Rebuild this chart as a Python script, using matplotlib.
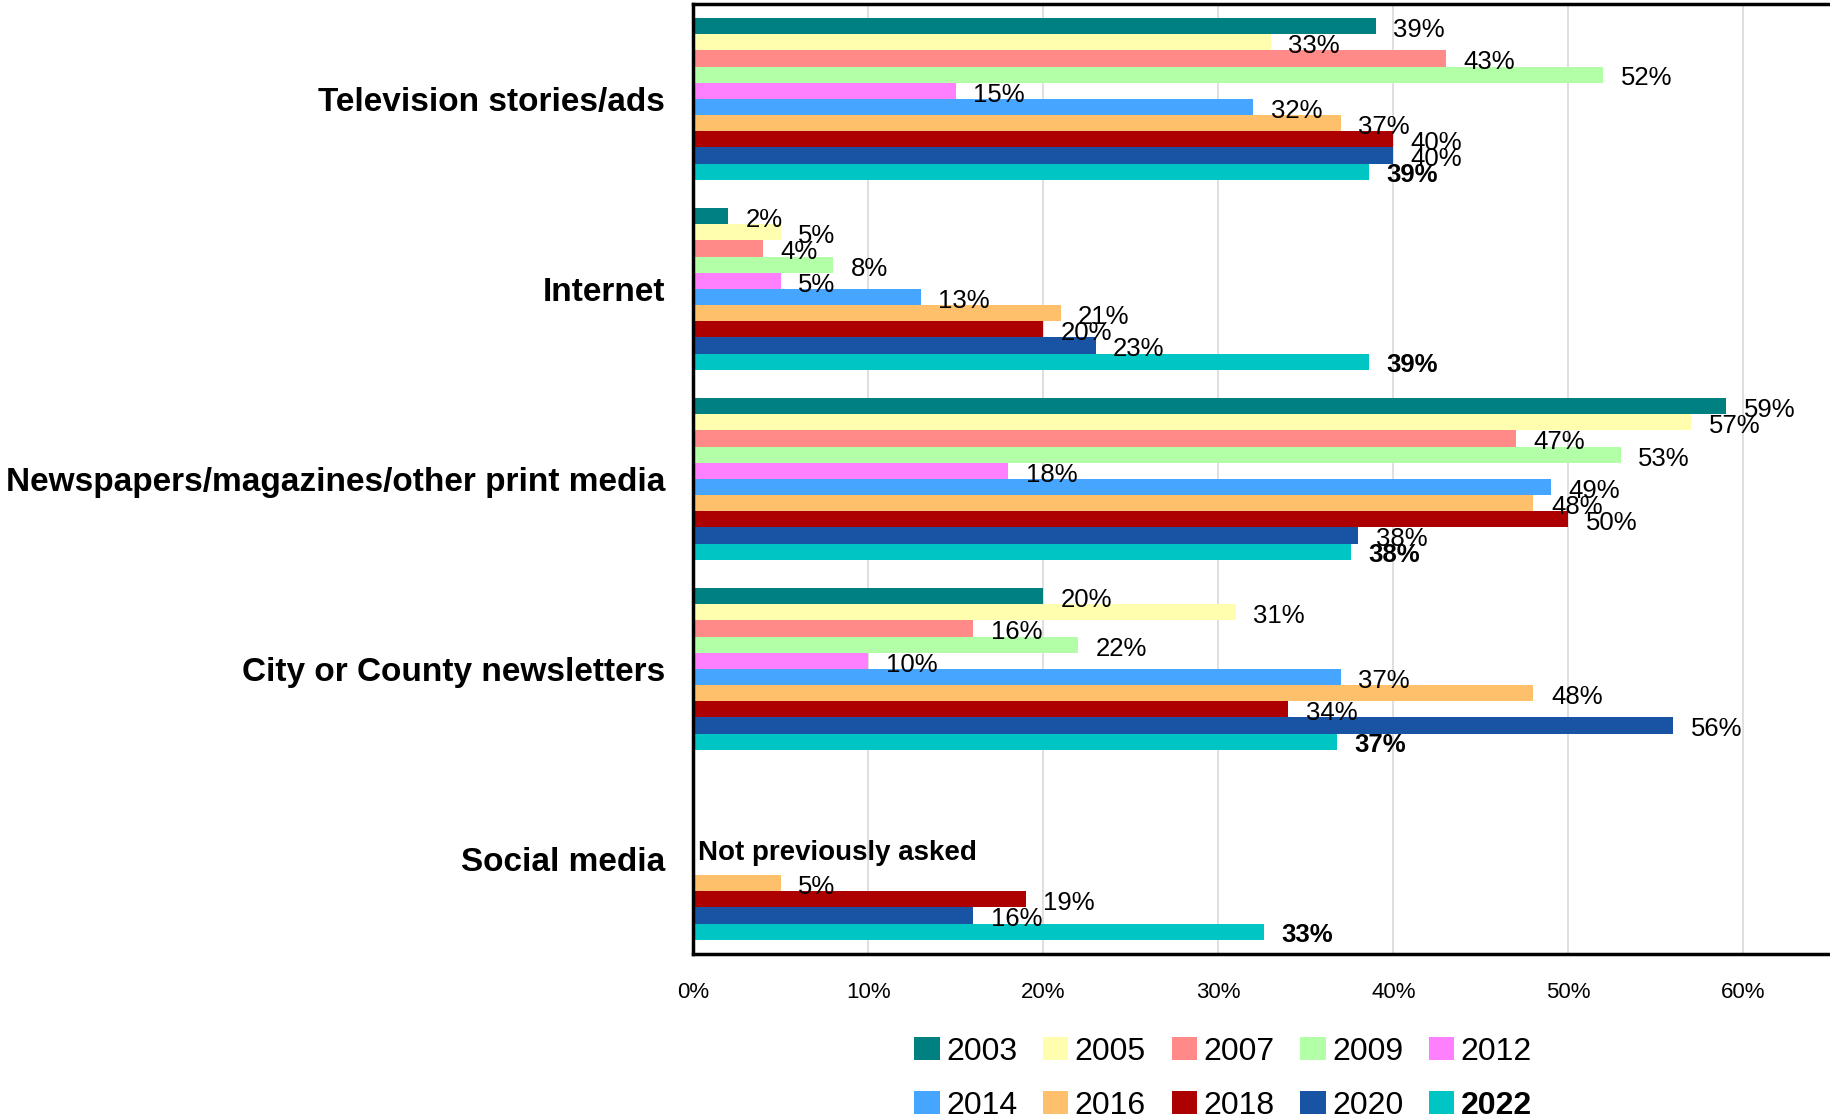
import numpy as np
import matplotlib

matplotlib.use('Agg')
import matplotlib.pyplot as plt

plt.rcParams['font.family'] = ['Liberation Sans', 'DejaVu Sans']

categories = ["Television stories/ads", "Internet",
              "Newspapers/magazines/other print media",
              "City or County newsletters", "Social media"]
years = ["2003", "2005", "2007", "2009", "2012",
         "2014", "2016", "2018", "2020", "2022"]
colors = ["#008080", "#FFFDAE", "#FF8A87", "#B3FFA8", "#FF80FF",
          "#45A5FF", "#FEC06A", "#AD0000", "#1954A4", "#00C5C5"]

nan = np.nan
# one row per year, one column per category (percent)
y2003 = [39, 2, 59, 20, nan]
y2005 = [33, 5, 57, 31, nan]
y2007 = [43, 4, 47, 16, nan]
y2009 = [52, 8, 53, 22, nan]
y2012 = [15, 5, 18, 10, nan]
y2014 = [32, 13, 49, 37, nan]
y2016 = [37, 21, 48, 48, 5]
y2018 = [40, 20, 50, 34, 19]
y2020 = [40, 23, 38, 56, 16]
y2022 = [38.6, 38.6, 37.6, 36.8, 32.6]
values = [y2003, y2005, y2007, y2009, y2012,
          y2014, y2016, y2018, y2020, y2022]

fig = plt.figure(figsize=(18.31, 11.19), dpi=100)
ax = fig.add_axes([0.3785, 0.1475, 0.6215, 0.849])

n = len(years)
group = 0.85
bh = group / n
ypos = np.arange(len(categories))

ax.set_axisbelow(True)
ax.grid(axis='x', color='#D9D9D9', linewidth=1.2)

bars = []
for i, (yr, vals, c) in enumerate(zip(years, values, colors)):
    off = -group / 2 + (i + 0.5) * bh
    b = ax.barh(ypos + off, vals, height=bh, color=c, label=yr)
    bars.append(b)
    for y, v in zip(ypos + off, vals):
        if np.isnan(v):
            continue
        ax.text(v + 1.0, y + 0.02, f"{v:.0f}%", va='center', ha='left',
                fontsize=18.5, fontweight='bold' if yr == "2022" else 'normal')

ax.text(0.3, ypos[-1] - 0.03, "Not previously asked", fontsize=20,
        fontweight='bold', va='center', ha='left')

ax.set_xlim(0, 65)
ax.set_ylim(len(categories) - 0.5, -0.5)
ax.set_xticks(range(0, 61, 10))
ax.set_xticklabels([f"{t}%" for t in range(0, 61, 10)], fontsize=16)
ax.set_yticks(ypos)
ax.set_yticklabels(categories, fontsize=24, fontweight='bold')
ax.tick_params(axis='both', length=0)
ax.tick_params(axis='x', pad=20)
ax.tick_params(axis='y', pad=20)

for s in ['left', 'top', 'bottom']:
    ax.spines[s].set_linewidth(2.5)
ax.spines['right'].set_visible(False)

# legend filled row by row
order = [0, 5, 1, 6, 2, 7, 3, 8, 4, 9]
handles = [bars[k] for k in order]
labels = [years[k] for k in order]
leg = fig.legend(handles, labels, loc='center', bbox_to_anchor=(0.668, 0.036),
                 ncol=5, frameon=False, fontsize=23, handlelength=0.8,
                 handleheight=0.7, handletextpad=0.2, columnspacing=0.8,
                 labelspacing=0.75)
for t in leg.get_texts():
    if t.get_text() == "2022":
        t.set_fontweight('bold')

fig.savefig("out.png", dpi=100)
